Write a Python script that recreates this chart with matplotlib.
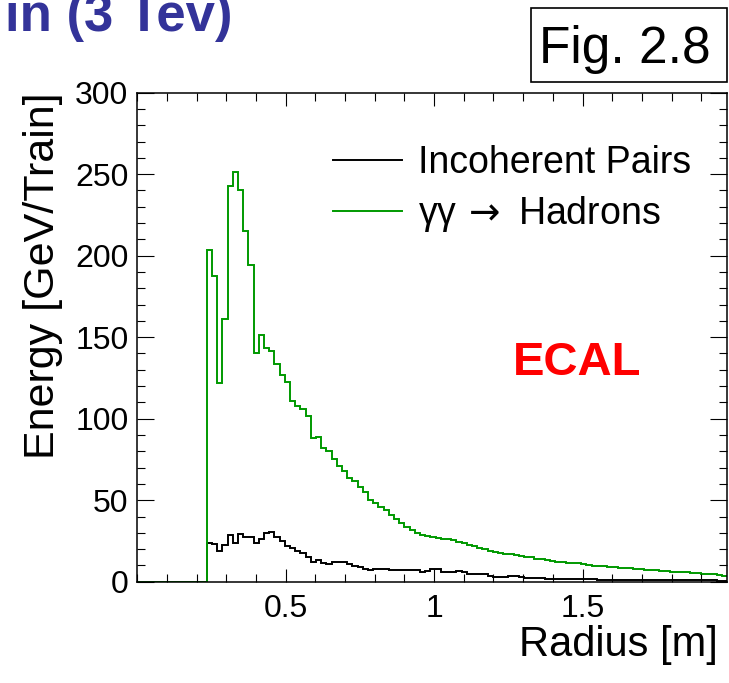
import numpy as np
import matplotlib
matplotlib.use("Agg")
import matplotlib.pyplot as plt
from matplotlib.patches import Rectangle
from matplotlib.ticker import MultipleLocator, FixedLocator

plt.rcParams['font.family'] = ['Liberation Sans', 'DejaVu Sans']

# ---- histogram data: energy deposit per bunch train vs. radius ----
bin_start = 0.2336   # inner radius of the calorimeter
bin_width = 0.01753

# gamma gamma -> hadrons
hadrons = [
    203.5, 187.7, 122.0, 161.0, 243.0, 251.5, 240.5, 215.0, 194.0, 140.5,
    151.5, 143.6, 141.7, 133.4, 126.8, 122.5, 111.0, 108.0, 105.8, 101.7,
    88.0, 88.8, 82.0, 80.3, 75.3, 71.2, 67.9, 63.6, 62.0, 58.3,
    54.8, 50.1, 48.1, 46.0, 44.0, 40.9, 38.3, 35.8, 33.7, 31.7,
    29.7, 28.6, 28.0, 27.2, 26.8, 26.2, 25.9, 25.6, 24.5, 24.0,
    22.6, 22.1, 20.4, 19.8, 18.8, 18.0, 17.6, 17.0, 16.8, 16.5,
    15.6, 15.3, 15.0, 14.0, 13.8, 13.5, 12.4, 12.2, 11.8, 11.7,
    11.5, 11.3, 11.0, 10.0, 9.9, 9.7, 9.5, 9.3, 9.0, 8.5,
    8.4, 8.3, 8.0, 7.5, 7.4, 7.3, 7.0, 6.7, 6.5, 6.2,
    6.1, 6.0, 5.8, 5.5, 5.4, 5.0, 4.9, 4.7, 4.0, 3.7,
    3.5,
]

# incoherent pairs
pairs = [
    23.9, 22.9, 19.0, 22.5, 28.6, 23.9, 29.1, 27.6, 27.2, 23.5,
    26.0, 29.7, 30.3, 27.6, 25.0, 22.1, 20.9, 18.8, 17.4, 15.3,
    11.9, 13.3, 11.7, 10.7, 12.3, 12.3, 12.2, 10.7, 9.8, 8.8,
    7.8, 7.2, 8.0, 8.0, 7.9, 7.4, 7.2, 7.2, 7.2, 7.1,
    7.0, 6.1, 6.7, 7.6, 7.5, 5.8, 5.8, 5.7, 6.5, 5.8,
    4.9, 4.9, 4.8, 4.8, 3.5, 3.1, 3.1, 3.0, 3.5, 3.5,
    2.7, 2.4, 2.3, 2.3, 2.2, 1.6, 1.5, 1.5, 1.5, 1.5,
    1.5, 1.5, 1.5, 1.5, 1.5, 1.2, 1.2, 1.2, 1.2, 1.2,
    1.2, 1.2, 1.2, 1.2, 1.2, 1.2, 1.2, 1.2, 1.2, 1.3,
    1.3, 1.3, 1.3, 1.3, 1.3, 0.8, 0.8, 0.8, 0.3, 0.3,
    0.3,
]

edges = np.concatenate([[0.0], bin_start + bin_width * np.arange(len(hadrons) + 1)])
hadrons_full = np.concatenate([[0.0], hadrons])
pairs_full = np.concatenate([[0.0], pairs])

fig = plt.figure(figsize=(7.29, 6.83), dpi=100)
ax = fig.add_axes([0.1885, 0.1483, 0.8092, 0.7160])

ax.stairs(pairs_full, edges, baseline=None, color='black', lw=1.4,
          label='Incoherent Pairs')
ax.stairs(hadrons_full, edges, baseline=None, color='#009900', lw=1.4,
          label=r'$\mathregular{\gamma\gamma}\,\rightarrow$ Hadrons')

ax.set_xlim(0, 1.988)
ax.set_ylim(0, 300)

# ROOT-like axes: ticks inside on all four sides
ax.xaxis.set_major_locator(FixedLocator([0.5, 1.0, 1.5]))
ax.xaxis.set_minor_locator(MultipleLocator(0.1))
ax.yaxis.set_major_locator(MultipleLocator(50))
ax.yaxis.set_minor_locator(MultipleLocator(10))
ax.set_xticklabels(['0.5', '1', '1.5'])
ax.tick_params(which='both', direction='in', top=True, right=True, width=0.8)
ax.tick_params(axis='x', which='major', length=9.5, labelsize=23, pad=9)
ax.tick_params(axis='x', which='minor', length=5.5)
ax.tick_params(axis='y', which='major', length=12, labelsize=23, pad=6.5)
ax.tick_params(axis='y', which='minor', length=6)
for sp in ax.spines.values():
    sp.set_linewidth(1.1)

ax.set_xlabel('Radius [m]', fontsize=30, loc='right')
ax.xaxis.set_label_coords(0.984, -0.088)
ax.set_ylabel('Energy [GeV/Train]', fontsize=31, loc='top')
ax.yaxis.set_label_coords(-0.126, 1.0)

leg = ax.legend(loc='upper left', bbox_to_anchor=(333 / 729, 1 - 145 / 683),
                bbox_transform=fig.transFigure, frameon=False, fontsize=27,
                handlelength=1.85, handletextpad=0.42, labelspacing=0.35,
                borderpad=0, borderaxespad=0)
for line in leg.get_lines():
    line.set_linewidth(1.4)

ax.text(1.266, 126.8, 'ECAL', color='#ff0000', fontsize=34,
        fontweight='bold', va='baseline')

# header pieces above the plot
fig.text(5 / 729, 1 - 31 / 683, 'in (3 Tev)', color='#333399', fontsize=38,
         fontweight='bold', va='baseline')
fig.patches.append(Rectangle((531 / 729, 1 - 82 / 683), 196 / 729, 74 / 683,
                             transform=fig.transFigure, facecolor='white',
                             edgecolor='black', lw=1.2))
fig.text(539 / 729, 1 - 63 / 683, 'Fig. 2.8', fontsize=37, va='baseline')

fig.savefig('out.png', dpi=100)
